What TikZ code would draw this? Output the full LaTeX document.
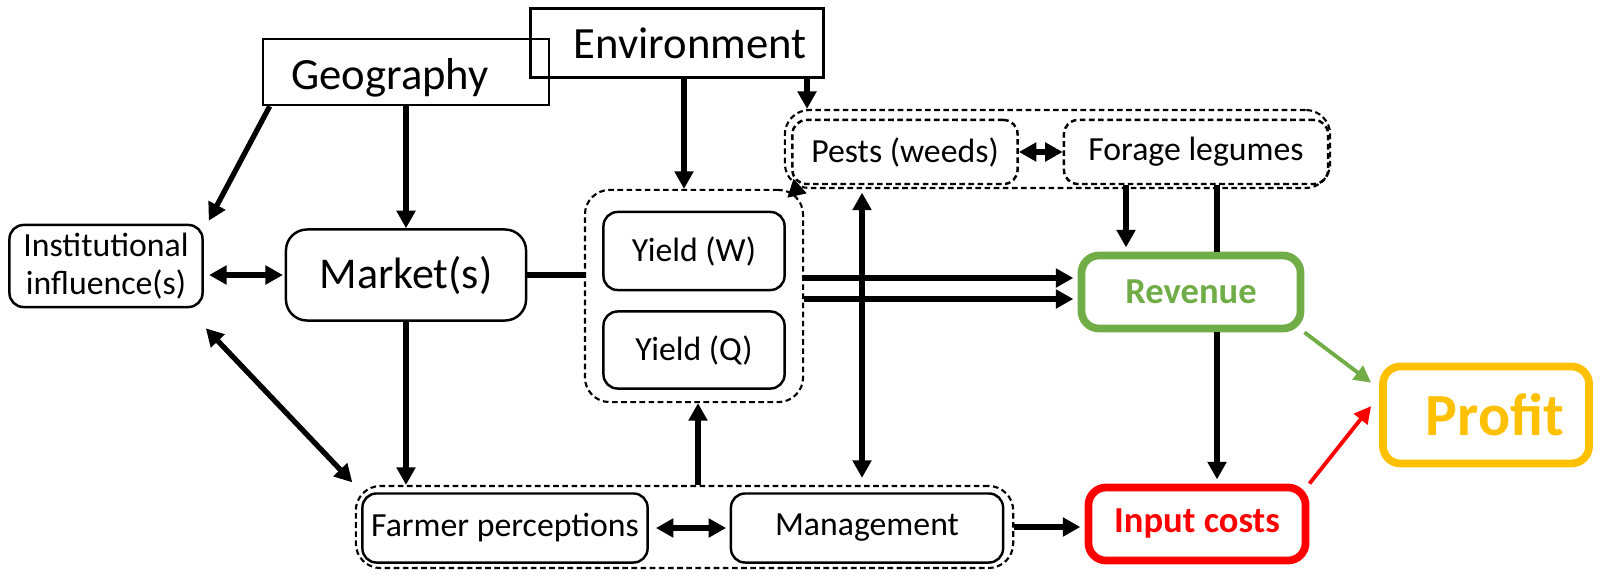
\documentclass[tikz,border=0pt]{standalone}
\usepackage{fontspec}
\setmainfont{Carlito}
\usetikzlibrary{arrows.meta}
\definecolor{revgreen}{HTML}{70AD47}
\definecolor{profitorange}{HTML}{FFC000}
\definecolor{costred}{HTML}{FF0000}
\tikzset{
  plainbox/.style={draw, line width=0.7pt, inner sep=0pt, font=\fontsize{12.7}{14}\selectfont},
  box/.style={draw, rounded corners=4pt, line width=0.7pt, inner sep=0pt, align=center,
    font=\fontsize{9.6}{10.8}\selectfont},
  dashbox/.style={box, dash pattern=on 1.6pt off 1pt},
  grp/.style={draw, rounded corners=7pt, line width=0.6pt, dash pattern=on 1.6pt off 1pt},
  keybox/.style={draw=#1, text=#1, line width=2.2pt, rounded corners=5pt, inner sep=0pt,
    font=\fontsize{10.4}{12}\selectfont\bfseries},
  line/.style={line width=1.5pt},
  arr/.style={line width=1.5pt, -{Triangle[length=5pt,width=5.2pt]}},
  darr/.style={line width=1.5pt, {Triangle[length=5pt,width=5.2pt]}-{Triangle[length=5pt,width=5.2pt]}},
  carr/.style={draw=#1, line width=1.1pt, -{Triangle[length=4.8pt,width=4.8pt]}},
}
\begin{document}
\begin{tikzpicture}[x=0.01cm,y=-0.01cm]
\useasboundingbox (0,0) rectangle (1604,576);

% drivers at the top
\node[plainbox, minimum width=2.86cm, minimum height=0.66cm] (geo) at (406,72) {\rule{0pt}{12.2pt}Geography\hspace*{0.32cm}};
\node[plainbox, minimum width=2.93cm, minimum height=0.69cm] (env) at (677,43) {\hspace*{0.26cm}Environment};

% left side
\node[box, minimum width=1.93cm, minimum height=0.82cm] (inst) at (106,266) {Institutional\\influence(s)};
\node[box, rounded corners=6pt, font=\fontsize{12.5}{14}\selectfont, minimum width=2.40cm, minimum height=0.91cm] (mkt) at (406,275) {Market(s)};

% yields
\node[grp, minimum width=2.18cm, minimum height=2.12cm] (yieldgrp) at (694,296) {};
\node[box, minimum width=1.81cm, minimum height=0.78cm] (yw) at (694,251) {Yield (W)};
\node[box, minimum width=1.81cm, minimum height=0.77cm] (yq) at (694,350) {Yield (Q)};

% pests and legumes
\node[grp, minimum width=5.45cm, minimum height=0.78cm] (pestgrp) at (1057.5,149) {};
\node[dashbox, minimum width=2.25cm, minimum height=0.64cm] (pests) at (905,152) {Pests (weeds)};
\node[dashbox, minimum width=2.64cm, minimum height=0.64cm] (forage) at (1196,152) {Forage legumes};

% farmer side
\node[grp, minimum width=6.57cm, minimum height=0.82cm] (mgmtgrp) at (684.5,527) {};
\node[box, minimum width=2.85cm, minimum height=0.69cm] (farmer) at (505,528) {Farmer perceptions};
\node[box, minimum width=2.72cm, minimum height=0.69cm] (mgmt) at (867,528) {Management};

% economics
\node[keybox=revgreen, minimum width=2.19cm, minimum height=0.73cm] (rev) at (1191,292) {Revenue};
\node[keybox=costred, minimum width=2.17cm, minimum height=0.73cm] (cost) at (1197,524) {Input costs};
\node[keybox=profitorange, font=\fontsize{17}{19}\selectfont\bfseries, minimum width=2.06cm, minimum height=0.97cm] (profit) at (1486,415) {\hspace*{0.18cm}Profit};

% connectors
\draw[arr] ([xshift=0.08cm]geo.south west) -- ([shift={(0.05cm,0.03cm)}]inst.north east);
\draw[arr] (geo) -- (mkt);
\draw[arr] (684,0 |- env.south) -- (684,0 |- yieldgrp.north);
\draw[arr] (807,0 |- env.south) -- (807,0 |- pestgrp.north);
\draw[arr] ([xshift=0.13cm]pestgrp.south west) -- ([shift={(-0.17cm,-0.09cm)}]yieldgrp.north east);
\draw[darr] (pests) -- (forage);
\draw[arr, shorten >=1.2pt] (1126,0 |- forage.south) -- (1126,0 |- rev.north);
\draw[line] (1217,0 |- forage.south) -- (1217,0 |- rev.north);
\draw[darr, shorten <=1.5pt, shorten >=0.5pt] (inst.east |- mkt.west) -- (mkt.west);
\draw[line] (mkt.east) -- (yieldgrp.west |- mkt.east);
\draw[arr, shorten >=1.2pt] (yieldgrp.east |- 0,278) -- (rev.west |- 0,278);
\draw[arr, shorten >=1.2pt] (yieldgrp.east |- 0,299) -- (rev.west |- 0,299);
\draw[darr, shorten <=1pt, shorten >=2pt] (862,0 |- pestgrp.south) -- (862,0 |- mgmtgrp.north);
\draw[darr, shorten >=1pt] ([shift={(0.02cm,-0.2cm)}]inst.south east) -- (mgmtgrp.north west);
\draw[arr] (mkt.south) -- (mkt.south |- mgmtgrp.north);
\draw[arr] (698,0 |- mgmtgrp.north) -- (698,0 |- yieldgrp.south);
\draw[darr, shorten <=2pt, shorten >=1pt] (farmer) -- (mgmt);
\draw[arr, shorten >=1.2pt] (mgmtgrp.east) -- (cost.west |- mgmtgrp.east);
\draw[arr, shorten >=1.2pt] (1217,0 |- rev.south) -- (1217,0 |- cost.north);
\draw[carr=revgreen] (rev.south east) -- ([shift={(-0.08cm,-0.2cm)}]profit.north west);
\draw[carr=costred] (cost.north east) -- ([shift={(-0.08cm,-0.435cm)}]profit.north west);
\end{tikzpicture}
\end{document}
